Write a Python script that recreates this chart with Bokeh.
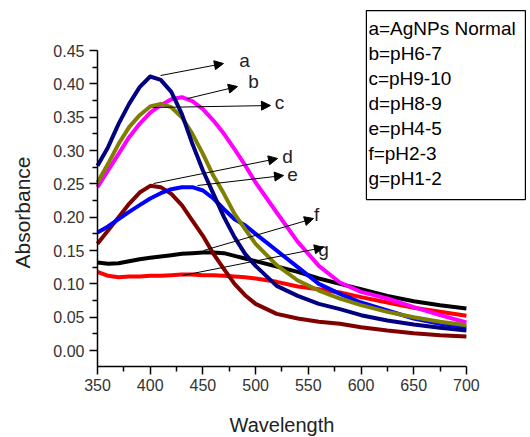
import math
from bokeh.plotting import figure
from bokeh.models import (Arrow, NormalHead, ColumnDataSource, FixedTicker,
                          Range1d, CustomJSTickFormatter)
from bokeh.core.properties import value
from bokeh.embed import file_html
from bokeh.resources import INLINE

# ---------------- data ----------------
wavelength = [350, 360, 370, 380, 390, 400, 410, 420, 430, 440, 450, 460, 470,
              480, 490, 500, 520, 540, 560, 580, 600, 625, 650, 675, 700]

abs_a_navy = [0.277, 0.305, 0.340, 0.370, 0.395, 0.411, 0.406, 0.388, 0.355, 0.310,
              0.270, 0.235, 0.200, 0.170, 0.145, 0.127, 0.097, 0.082, 0.070, 0.062,
              0.053, 0.045, 0.039, 0.034, 0.030]
abs_olive = [0.252, 0.280, 0.310, 0.335, 0.353, 0.366, 0.370, 0.365, 0.350, 0.325,
             0.295, 0.262, 0.235, 0.205, 0.182, 0.160, 0.128, 0.105, 0.090, 0.078,
             0.068, 0.058, 0.050, 0.043, 0.038]
abs_magenta = [0.245, 0.270, 0.295, 0.320, 0.340, 0.357, 0.368, 0.377, 0.380, 0.374,
               0.362, 0.345, 0.325, 0.302, 0.278, 0.252, 0.207, 0.163, 0.127, 0.102,
               0.088, 0.078, 0.065, 0.053, 0.042]
abs_blue = [0.177, 0.186, 0.197, 0.208, 0.218, 0.228, 0.236, 0.242, 0.245, 0.245,
            0.240, 0.228, 0.212, 0.197, 0.188, 0.175, 0.150, 0.125, 0.100, 0.085,
            0.072, 0.060, 0.048, 0.040, 0.034]
abs_maroon = [0.160, 0.180, 0.200, 0.220, 0.237, 0.247, 0.245, 0.235, 0.218, 0.195,
              0.172, 0.145, 0.122, 0.100, 0.083, 0.070, 0.055, 0.048, 0.043, 0.040,
              0.035, 0.030, 0.026, 0.023, 0.021]
abs_black = [0.132, 0.130, 0.131, 0.134, 0.137, 0.139, 0.141, 0.143, 0.145, 0.146,
             0.147, 0.147, 0.146, 0.142, 0.138, 0.134, 0.126, 0.118, 0.108, 0.100,
             0.092, 0.082, 0.074, 0.068, 0.063]
abs_red = [0.118, 0.112, 0.110, 0.111, 0.111, 0.112, 0.112, 0.113, 0.114, 0.114,
           0.113, 0.113, 0.112, 0.111, 0.110, 0.108, 0.103, 0.096, 0.092, 0.087,
           0.080, 0.072, 0.064, 0.058, 0.052]

x_ticks = [350, 400, 450, 500, 550, 600, 650, 700]
x_minor = [375, 425, 475, 525, 575, 625, 675]
y_ticks = [0.00, 0.05, 0.10, 0.15, 0.20, 0.25, 0.30, 0.35, 0.40, 0.45]
y_minor = [0.025, 0.075, 0.125, 0.175, 0.225, 0.275, 0.325, 0.375, 0.425]

x_title = "Wavelength"
y_title = "Absorbance"

legend_labels = ["a=AgNPs Normal", "b=pH6-7", "c=pH9-10", "d=pH8-9",
                 "e=pH4-5", "f=pH2-3", "g=pH1-2"]

# annotation arrows (label letter, start, tip, letter position)
ann_letters = ["a", "b", "c", "d", "e", "f", "g"]
ann_x0 = [409.8, 435.4, 403.1, 403.1, 444.9, 450.6, 430.6]
ann_y0 = [0.4125, 0.378, 0.3645, 0.2505, 0.2475, 0.150, 0.1125]
ann_x1 = [469.5, 482.8, 514.1, 520.8, 526.5, 555.0, 564.4]
ann_y1 = [0.4305, 0.396, 0.3675, 0.288, 0.2625, 0.198, 0.1545]
ann_lx = [489.5, 498.0, 522.7, 530.3, 535.0, 557.8, 564.4]
ann_ly = [0.435, 0.4035, 0.372, 0.291, 0.264, 0.204, 0.1515]

# ---------------- figure ----------------
FONT = "Liberation Sans"
XMIN, XMAX = 350, 700
YMIN, YMAX = -0.024, 0.45
px_x = 50 / 52.7      # nm per pixel
px_y = 0.05 / 33.33   # absorbance per pixel
W, H = 528, 436

# the frame covers the whole canvas; axes are pinned at fixed data locations
x_lo = XMIN - 97 * px_x
y_lo = 0.0 - (H - 350) * px_y
p = figure(width=W, height=H, output_backend="svg", toolbar_location=None,
           x_range=Range1d(x_lo, x_lo + W * px_x),
           y_range=Range1d(y_lo, y_lo + H * px_y),
           min_border_left=0, min_border_right=0, min_border_top=0,
           min_border_bottom=0)
p.outline_line_color = None
p.xgrid.visible = False
p.ygrid.visible = False
p.background_fill_color = "white"

series = [
    (abs_red, "#FF0000"),
    (abs_black, "#000000"),
    (abs_maroon, "#800000"),
    (abs_blue, "#0000FF"),
    (abs_magenta, "#FF00FF"),
    (abs_olive, "#808000"),
    (abs_a_navy, "#000080"),
]
for ys, col in series:
    p.line(wavelength, ys, line_color=col, line_width=4, line_join="round")

# axes
for ax in (p.xaxis[0], p.yaxis[0]):
    ax.axis_line_width = 1.5
    ax.axis_line_color = "black"
    ax.major_tick_in = 0
    ax.major_tick_out = 8
    ax.minor_tick_in = 0
    ax.minor_tick_out = 5
    ax.major_tick_line_width = 1.5
    ax.minor_tick_line_width = 1.5
    ax.major_label_text_font = FONT
    ax.major_label_text_font_size = "16px"
    ax.major_label_text_color = "#333333"
    ax.major_label_standoff = 5

p.xaxis.ticker = FixedTicker(ticks=x_ticks, minor_ticks=x_minor)
p.yaxis.ticker = FixedTicker(ticks=y_ticks, minor_ticks=y_minor)
p.xaxis.bounds = (XMIN, XMAX)
p.yaxis.bounds = (YMIN, YMAX)
p.xaxis.fixed_location = YMIN
p.yaxis.fixed_location = XMIN
p.yaxis.formatter = CustomJSTickFormatter(code="return tick.toFixed(2);")

# axis titles, centred on the axis lines
p.text(x=[(XMIN + XMAX) / 2], y=[YMIN - 59 * px_y], text=[x_title],
       text_font=value(FONT), text_font_size="20px", text_color="#222222",
       text_align="center", text_baseline="middle")
p.text(x=[XMIN - 75 * px_x], y=[(YMIN + YMAX) / 2 - 4 * px_y], text=[y_title],
       angle=math.pi / 2, text_font=value(FONT), text_font_size="21px",
       text_color="#222222", text_align="center", text_baseline="middle")

# arrows + letters
asrc = ColumnDataSource(dict(x0=ann_x0, y0=ann_y0, x1=ann_x1, y1=ann_y1))
p.add_layout(Arrow(source=asrc, x_start="x0", y_start="y0", x_end="x1", y_end="y1",
                   line_color="black", line_width=1,
                   end=NormalHead(size=9, fill_color="black", line_color="black")))
p.text(x=ann_lx, y=ann_ly, text=ann_letters, text_font=value(FONT),
       text_font_size="19px", text_color="#222222", text_align="center",
       text_baseline="middle")

# legend box (text box at top right)
box_left = XMAX - 100 * px_x
box_right = XMAX + 59 * px_x
box_top = YMAX + 40 * px_y
box_bottom = YMAX - 149 * px_y
p.quad(left=[box_left], right=[box_right], top=[box_top], bottom=[box_bottom],
       fill_color="white", line_color="black", line_width=1.2)
row_y = [box_top - (18 + 25 * i) * px_y for i in range(len(legend_labels))]
p.text(x=[box_left + 2 * px_x] * len(legend_labels), y=row_y, text=legend_labels,
       text_font=value(FONT), text_font_size="19px", text_color="black",
       text_align="left", text_baseline="middle")

open("out.html", "w").write(file_html(p, INLINE))
